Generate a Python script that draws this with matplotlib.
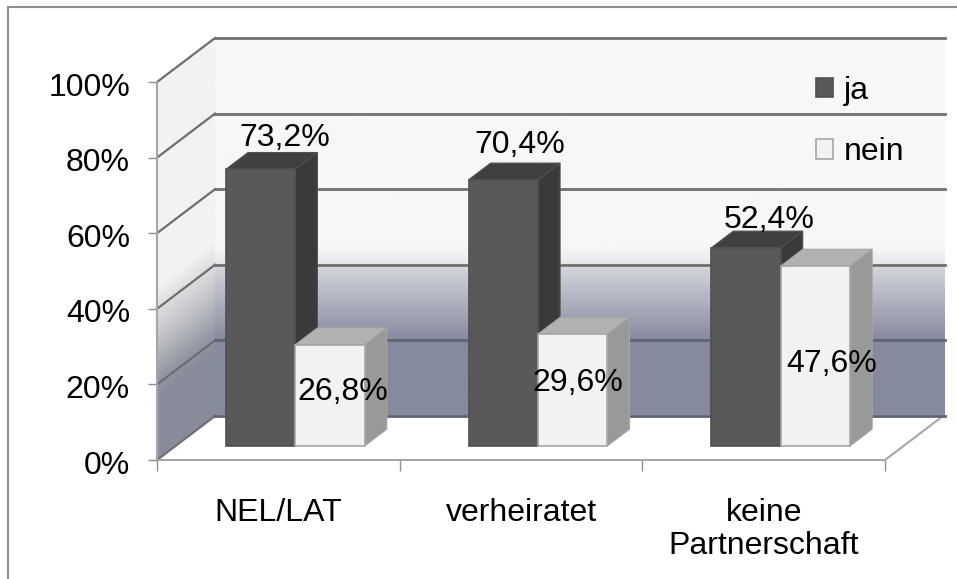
import numpy as np
import matplotlib
matplotlib.use("Agg")
import matplotlib.pyplot as plt
from matplotlib.colors import LinearSegmentedColormap
from matplotlib.lines import Line2D
from matplotlib.transforms import ScaledTranslation

categories = ["NEL/LAT", "verheiratet", "keine\nPartnerschaft"]
ja = [73.2, 70.4, 52.4]
nein = [26.8, 29.6, 47.6]
y_ticks = [0, 20, 40, 60, 80, 100]

# schiefe Projektion: Tiefe 1 = Rueckwand
DX = 0.239
DY = 11.64
BAR_FRONT = 0.32
BAR_BACK = 0.70
BAR_W = 0.286
BAR_START = 0.2077
PX_X = 242.67
PX_Y = 3.78
FONT = 23

plt.rcParams["font.family"] = ["Liberation Sans", "DejaVu Sans"]
fig = plt.figure(figsize=(9.57, 5.79), dpi=100)
ax = fig.add_axes([0, 0, 1, 1])
ax.set_xlim(-157 / PX_X, (957 - 157) / PX_X)
ax.set_ylim((460 - 579) / PX_Y, 460 / PX_Y)


def comma(v):
    return f"{v:.1f}%".replace(".", ",")


# Rahmen
fig.add_artist(Line2D([8 / 957, 8 / 957], [0, 572 / 579], color="#8f8f8f", lw=1.5))
fig.add_artist(Line2D([8 / 957, 1], [572 / 579, 572 / 579], color="#8f8f8f", lw=1.5))

# Rueckwand mit Verlauf
wall_cmap = LinearSegmentedColormap.from_list("wall", [
    (0.0, "#868a9d"), (0.20, "#868a9d"), (0.306, "#b0b3c0"),
    (0.385, "#cfd1da"), (0.406, "#e8e9ec"), (0.45, "#f7f7f7"), (1.0, "#f7f7f7"),
])
wall_x0, wall_x1 = DX, 3 + DX + 0.008
ax.imshow(np.linspace(1, 0, 256).reshape(-1, 1), cmap=wall_cmap, vmin=0, vmax=1, aspect="auto",
          extent=(wall_x0, wall_x1, DY, 100 + DY), zorder=1, clip_on=False)

# Seitenwand mit schraegem Verlauf
side_cmap = LinearSegmentedColormap.from_list("side", [
    (0.0, "#f2f2f2"), (0.47, "#c2c3c8"), (0.80, "#969aa6"), (1.0, "#888c9a"),
])
gx, gy = np.meshgrid(np.linspace(0, DX, 60), np.linspace(100 + DY, 0, 400))
t = np.clip((46 - gy + (gx / DX) * 12) / 30, 0, 1)
side_im = ax.imshow(t, cmap=side_cmap, vmin=0, vmax=1, aspect="auto",
                    extent=(0, DX, 0, 100 + DY), zorder=1)
side_poly = ax.fill([0, DX, DX, 0], [0, DY, 100 + DY, 100], facecolor="none", edgecolor="none", zorder=1)[0]
side_im.set_clip_path(side_poly)

# Boden
ax.fill([0, 3, 3 + DX, DX], [0, 0, DY, DY], color="white", zorder=1.5)
ax.plot([3, 3 + DX], [0, DY], color="#a6a6a6", lw=1.5, zorder=2)

# Gitterlinien
for v in y_ticks:
    back_col = "#5f6475" if v < 40 else "#707070"
    ax.plot([0, DX], [v, v + DY], color="#6e6e6e", lw=1.6, zorder=2)
    ax.plot([DX, wall_x1], [v + DY, v + DY], color=back_col, lw=2.0, zorder=2)


def draw_bars(values, start, face, top, side, edge, label, z):
    xs = np.arange(len(values)) + start + BAR_FRONT * DX
    base = BAR_FRONT * DY
    ox = (BAR_BACK - BAR_FRONT) * DX
    oy = (BAR_BACK - BAR_FRONT) * DY
    ax.bar(xs, values, BAR_W, bottom=base, align="edge", color=face, edgecolor=edge,
           linewidth=1.2, label=label, zorder=z + 0.2)
    for x, v in zip(xs, values):
        h = base + v
        ax.fill([x, x + BAR_W, x + BAR_W + ox, x + ox], [h, h, h + oy, h + oy],
                facecolor=top, edgecolor=edge, lw=0.8, zorder=z)
        ax.fill([x + BAR_W, x + BAR_W + ox, x + BAR_W + ox, x + BAR_W],
                [base, base + oy, h + oy, h], facecolor=side, edgecolor=edge, lw=0.8, zorder=z)
    return xs, base


xs_ja, base = draw_bars(ja, BAR_START, "#595959", "#404040", "#3a3a3a", "#505050", "ja", 3)
xs_nein, _ = draw_bars(nein, BAR_START + BAR_W, "#f2f2f2", "#b2b2b2", "#999999", "#a6a6a6", "nein", 4)

# Beschriftung der Balken, Versatz in Pixeln
ja_offset = [(24, 31), (16, 35), (23, 28)]
nein_offset = [(13, 3), (5, 7), (16, -8)]
for x, v, off in zip(xs_ja, ja, ja_offset):
    ax.annotate(comma(v), (x + BAR_W / 2, base + v), xytext=off, textcoords="offset pixels",
                ha="center", va="center", fontsize=FONT, color="black", zorder=6)
for x, v, off in zip(xs_nein, nein, nein_offset):
    ax.annotate(comma(v), (x + BAR_W / 2, base + v / 2), xytext=off, textcoords="offset pixels",
                ha="center", va="center", fontsize=FONT, color="black", zorder=6)

# Achsen
for name in ["top", "right"]:
    ax.spines[name].set_visible(False)
ax.spines["left"].set_position(("data", 0))
ax.spines["left"].set_bounds(0, 100)
ax.spines["left"].set_color("#a6a6a6")
ax.spines["left"].set_linewidth(1.5)
ax.spines["left"].set_zorder(2.5)
ax.spines["bottom"].set_position(("data", 0))
ax.spines["bottom"].set_bounds(0, 3)
ax.spines["bottom"].set_color("#a6a6a6")
ax.spines["bottom"].set_linewidth(1.5)
ax.spines["bottom"].set_zorder(2.5)

ax.set_yticks(y_ticks)
ax.set_yticklabels([f"{v}%" for v in y_ticks], fontsize=FONT)
ax.tick_params(axis="y", length=6.5, width=1, color="#8f8f8f", pad=13)
for lab in ax.get_yticklabels():
    lab.set_transform(lab.get_transform() + ScaledTranslation(0, -2 / 100, fig.dpi_scale_trans))

ax.set_xticks(range(len(categories) + 1))
ax.set_xticklabels([])
ax.set_xticks(np.arange(len(categories)) + 0.5, minor=True)
ax.set_xticklabels(categories, minor=True, fontsize=FONT, linespacing=1.14)
ax.tick_params(axis="x", which="major", length=8, width=1, color="#8f8f8f")
ax.tick_params(axis="x", which="minor", length=0, pad=27.5)

leg = ax.legend(loc="upper left", bbox_to_anchor=(816 / 957, 1 - 76 / 579), frameon=False,
                fontsize=FONT, handlelength=0.54, handleheight=0.54, handletextpad=0.32,
                labelspacing=0.98, borderpad=0, borderaxespad=0)
leg.set_zorder(7)

fig.savefig("out.png", dpi=100)
